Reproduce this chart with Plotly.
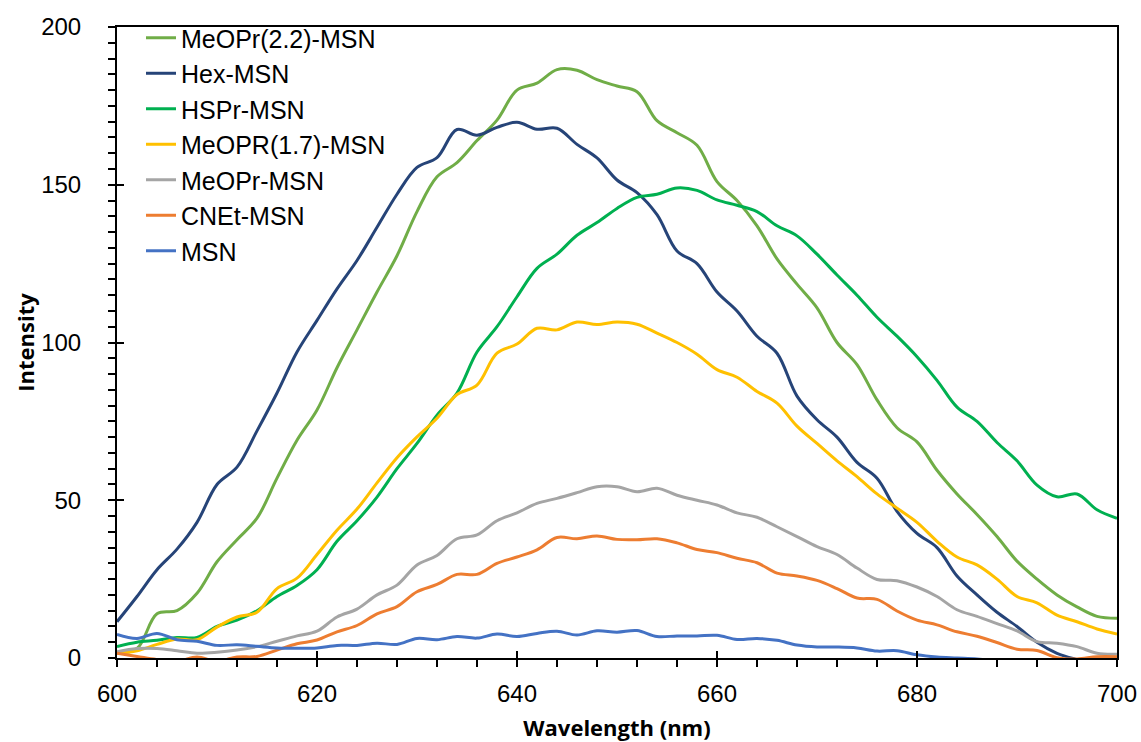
import plotly.graph_objects as go

wavelength = list(range(600, 701, 2))

meopr22 = [1.5, 3, 14, 15, 20.5, 30.5, 37.5, 44.3, 57, 69, 78.6, 92, 104, 116, 127.5, 141.5,
           152.5, 157, 164, 170.5, 180, 182.2, 186.5, 186.3, 183.3, 181.3, 179.5, 170.3, 166.5,
           162.5, 151, 145, 137, 126.5, 118.5, 111, 100, 93, 81.8, 73, 68.5, 59.5, 52, 45.5,
           38.5, 30.7, 25, 20, 16.2, 13.2, 12.6]
hex_msn = [11.5, 19.5, 28, 34.5, 43, 55, 60.5, 72, 84, 97, 107, 117, 126, 136.5, 147, 155.5,
           158.6, 167.5, 165.7, 168.2, 169.8, 167.6, 167.9, 162.8, 158.5, 151.5, 147.5, 140.5, 129,
           125, 116, 110, 102, 96.6, 83, 75.5, 70, 62, 57, 46.5, 39.5, 35, 26, 20, 14.5, 10,
           5, 1.5, -0.5, -2, -3]
hspr = [3.6, 5, 5.6, 6.5, 6.5, 10, 12, 15, 19.5, 23, 28, 37, 43.5, 51, 60, 68, 77, 84, 97,
        105, 114.5, 123.5, 128, 134, 138, 142.5, 146, 147, 149, 148.2, 145.2, 143.5, 141.5,
        137, 133.8, 128, 121.4, 115, 108, 102, 95.5, 88, 79.5, 75, 68.3, 62.5, 54.8, 51.1,
        52, 47, 44.3]
meopr17 = [1.5, 2.3, 4.3, 6, 5.8, 9.8, 13, 14.5, 22, 25.3, 32.8, 40.5, 47.2, 55.5, 63.5, 70.1,
           76, 83.5, 86.5, 96.6, 99.5, 104.5, 104, 106.5, 105.7, 106.5, 105.8, 103, 100, 96.3,
           91.4, 89, 84.5, 80.8, 73.5, 68, 62.5, 57.5, 52, 47.5, 43, 37, 32, 29.5, 25, 19.5,
           17.5, 13.6, 11.5, 9.2, 7.6]
meopr = [2, 3, 3, 2.3, 1.5, 1.8, 2.5, 3.6, 5.3, 7, 8.5, 13, 15.5, 20, 23.1, 29.5, 32.5, 37.8,
         39, 43.5, 46, 49, 50.6, 52.4, 54.3, 54.3, 52.7, 53.8, 51.6, 50, 48.5, 46, 44.6, 41.6,
         38.5, 35.3, 32.8, 28.5, 24.9, 24.5, 22.5, 19.5, 15.3, 13.2, 10.9, 8.6, 5.2, 4.7, 3.6,
         1.5, 1.2]
cnet = [1.5, 0.5, -0.5, -1, 0.3, -1, 0.3, 0.5, 2.5, 4.5, 5.7, 8.3, 10.3, 14, 16.3, 21, 23.3,
        26.5, 26.5, 30, 32, 34.3, 38.2, 37.8, 38.7, 37.6, 37.5, 37.8, 36.5, 34.4, 33.4, 31.6,
        30.2, 26.9, 26, 24.6, 22, 19, 18.6, 14.9, 12, 10.5, 8.3, 6.9, 4.9, 2.8, 2.4, 0.1,
        -0.3, 0.4, 0.4]
msn = [7.5, 6.2, 7.8, 5.8, 5.3, 4, 4.2, 3.7, 3.2, 3.1, 3.2, 4, 4, 4.7, 4.3, 6.2, 5.8, 6.8,
       6.3, 7.6, 6.8, 7.8, 8.5, 7.3, 8.6, 8.2, 8.7, 6.8, 7, 7, 7.2, 5.9, 6.2, 5.6, 4.1, 3.5,
       3.5, 3.2, 2.2, 2.3, 1, 0.3, 0, -0.3, -1, -1.5, -2, -2, -2.5, -3, -3]

series_names = ["MeOPr(2.2)-MSN", "Hex-MSN", "HSPr-MSN", "MeOPR(1.7)-MSN",
                "MeOPr-MSN", "CNEt-MSN", "MSN"]
series_values = [meopr22, hex_msn, hspr, meopr17, meopr, cnet, msn]
series_colors = ["#70AD47", "#264478", "#00B050", "#FFC000", "#A5A5A5", "#ED7D31", "#4472C4"]

fig = go.Figure()
for name, vals, col in zip(series_names, series_values, series_colors):
    fig.add_trace(go.Scatter(x=wavelength, y=vals, mode="lines", name=name,
                             line=dict(color=col, width=3, shape="spline", smoothing=1)))

tickfont = dict(family="Liberation Sans, Arial, sans-serif", size=24, color="black")
titlefont = dict(family="Open Sans, sans-serif", size=22, color="black")
fig.update_layout(
    width=1141, height=742,
    margin=dict(l=117, r=24, t=27, b=84, autoexpand=False),
    paper_bgcolor="white", plot_bgcolor="white",
    showlegend=True,
    legend=dict(x=0.024, y=1.019, xanchor="left", yanchor="top",
                bgcolor="rgba(0,0,0,0)", borderwidth=0,
                font=dict(family="Liberation Sans, Arial, sans-serif", size=25, color="black"),
                tracegroupgap=0),
    xaxis=dict(range=[600, 700], tick0=600, dtick=20, ticks="outside", ticklen=7, tickwidth=2,
               tickcolor="black", showline=True, linecolor="black", linewidth=2, mirror=True,
               showgrid=False, zeroline=False, tickfont=tickfont, ticklabelstandoff=6,
               automargin=False,
               minor=dict(dtick=4, ticks="outside", ticklen=7, tickwidth=2, tickcolor="black",
                          showgrid=False),
               title=dict(text="<b>Wavelength (nm)</b>", standoff=31, font=titlefont)),
    yaxis=dict(range=[0, 200], tick0=0, dtick=50, ticks="outside", ticklen=7, tickwidth=2,
               tickcolor="black", showline=True, linecolor="black", linewidth=2, mirror=True,
               showgrid=False, zeroline=False, tickfont=tickfont, ticklabelstandoff=22,
               automargin=False,
               minor=dict(dtick=5, ticks="outside", ticklen=7, tickwidth=2, tickcolor="black",
                          showgrid=False),
               title=dict(text="<b>Intensity</b>", standoff=0, font=titlefont)),
    xaxis2=dict(range=[600, 700], dtick=20, tick0=600, ticks="inside", ticklen=7, tickwidth=2,
                tickcolor="black", overlaying="x", side="bottom", showticklabels=False,
                showgrid=False, zeroline=False, showline=False, automargin=False),
    yaxis2=dict(range=[0, 200], dtick=50, tick0=0, ticks="inside", ticklen=7, tickwidth=2,
                tickcolor="black", overlaying="y", side="left", showticklabels=False,
                showgrid=False, zeroline=False, showline=False, automargin=False),
)
# invisible helper trace so the inner (crossing) major ticks are drawn
fig.add_trace(go.Scatter(x=[wavelength[0]], y=[msn[0]], xaxis="x2", yaxis="y2",
                         mode="markers", marker=dict(opacity=0), showlegend=False,
                         hoverinfo="skip"))

fig.write_html("out.html")
